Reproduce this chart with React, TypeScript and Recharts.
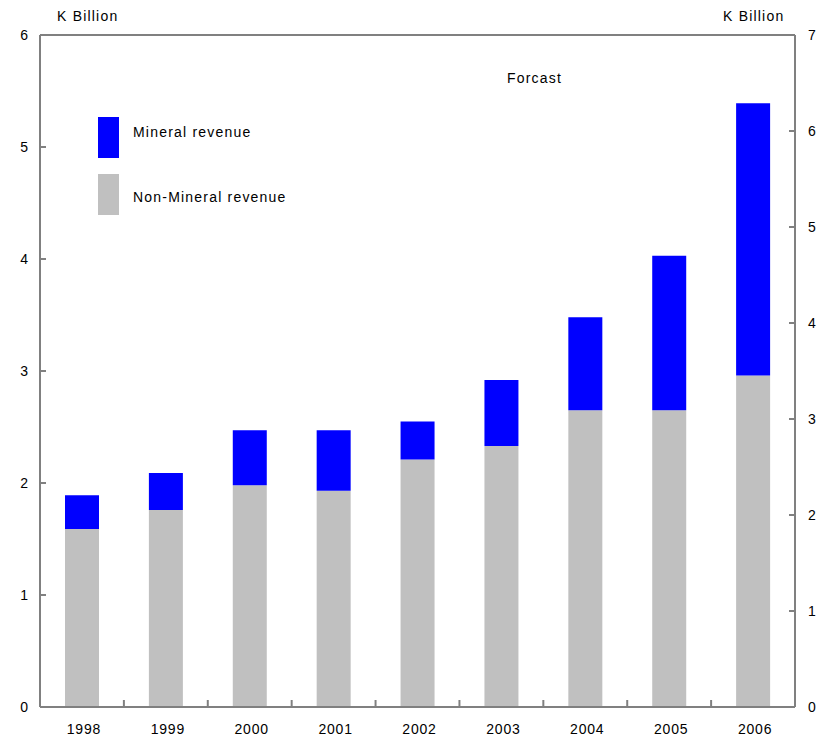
import { BarChart, Bar, Line, XAxis, YAxis, ReferenceLine } from 'recharts';

const years = ['1998', '1999', '2000', '2001', '2002', '2003', '2004', '2005', '2006'];
const nonMineral = [1.59, 1.76, 1.98, 1.93, 2.21, 2.33, 2.65, 2.65, 2.96];
const mineral = [0.3, 0.33, 0.49, 0.54, 0.34, 0.59, 0.83, 1.38, 2.43];
const leftTicks = [0, 1, 2, 3, 4, 5, 6];
const rightTicks = [0, 1, 2, 3, 4, 5, 6, 7];

const data = years.map((year, i) => ({
  year,
  nonMineral: nonMineral[i],
  mineral: mineral[i],
}));

const W = 821;
const H = 739;
const PLOT_LEFT = 40;
const PLOT_RIGHT = 795;
const BAND = (PLOT_RIGHT - PLOT_LEFT) / years.length;
const AXIS = '#808080';
const FONT = 'Arial, "Liberation Sans", sans-serif';

const LeftTick = (props: any) => {
  const { x, y, payload } = props;
  return (
    <g>
      <line x1={x + 12} x2={x + 18} y1={y} y2={y} stroke={AXIS} strokeWidth={2} />
      <text x={x} y={y} dy="0.355em" textAnchor="end" fontSize={14} fontFamily={FONT} fill="#000">
        {payload.value}
      </text>
    </g>
  );
};

const RightTick = (props: any) => {
  const { x, y, payload } = props;
  return (
    <g>
      <line x1={x - 13} x2={x - 19} y1={y} y2={y} stroke={AXIS} strokeWidth={2} />
      <text x={x} y={y} dy="0.355em" textAnchor="start" fontSize={14} fontFamily={FONT} fill="#000">
        {payload.value}
      </text>
    </g>
  );
};

const YearTick = (props: any) => {
  const { x, y, payload, index } = props;
  const axisY = y - 17;
  return (
    <g>
      {index > 0 && (
        <line
          x1={x - BAND / 2}
          x2={x - BAND / 2}
          y1={axisY}
          y2={axisY - 7}
          stroke={AXIS}
          strokeWidth={2}
        />
      )}
      <text
        x={x + 2}
        y={y}
        dy="0.71em"
        textAnchor="middle"
        fontSize={14}
        fontFamily={FONT}
        letterSpacing={0.8}
        fill="#000"
      >
        {payload.value}
      </text>
    </g>
  );
};

const txt = (left: number, top: number, s: string) => (
  <div
    style={{
      position: 'absolute',
      left,
      top,
      fontSize: 14,
      fontFamily: FONT,
      letterSpacing: '1.2px',
      lineHeight: '16px',
      whiteSpace: 'nowrap',
      color: '#000',
    }}
  >
    {s}
  </div>
);

export default function App() {
  return (
    <div style={{ position: 'absolute', left: 0, top: 0, width: W, height: H, background: '#fff' }}>
      <BarChart width={W} height={H} data={data} margin={{ top: 35, right: 0, bottom: 0, left: 0 }}>
        <XAxis
          dataKey="year"
          height={32}
          stroke={AXIS}
          strokeWidth={2}
          tickLine={false}
          tickSize={0}
          tickMargin={17}
          tick={<YearTick />}
          interval={0}
        />
        <YAxis
          yAxisId="left"
          orientation="left"
          width={40}
          domain={[0, 6]}
          ticks={leftTicks}
          stroke={AXIS}
          strokeWidth={2}
          tickLine={false}
          tickSize={0}
          tickMargin={12}
          tick={<LeftTick />}
          interval={0}
        />
        <YAxis
          yAxisId="right"
          orientation="right"
          width={26}
          domain={[0, 7]}
          ticks={rightTicks}
          stroke={AXIS}
          strokeWidth={2}
          tickLine={false}
          tickSize={0}
          tickMargin={13}
          tick={<RightTick />}
          interval={0}
        />
        <ReferenceLine yAxisId="left" y={6} stroke={AXIS} strokeWidth={2} />
        <Bar yAxisId="left" dataKey="nonMineral" name="Non-Mineral revenue" stackId="a" fill="#C0C0C0" barSize={34} isAnimationActive={false} />
        <Bar yAxisId="left" dataKey="mineral" name="Mineral revenue" stackId="a" fill="#0000FF" barSize={34} isAnimationActive={false} />
        {/* invisible series so the right-hand axis gets a scale */}
        <Line yAxisId="right" dataKey="nonMineral" stroke="none" dot={false} activeDot={false} legendType="none" isAnimationActive={false} />
      </BarChart>
      {txt(57, 8, 'K Billion')}
      {txt(723, 8, 'K Billion')}
      {txt(507, 70, 'Forcast')}
      <div style={{ position: 'absolute', left: 98, top: 117, width: 21, height: 41, background: '#0000FF' }} />
      <div style={{ position: 'absolute', left: 98, top: 174, width: 21, height: 41, background: '#C0C0C0' }} />
      {txt(133, 124, 'Mineral revenue')}
      {txt(133, 189, 'Non-Mineral revenue')}
    </div>
  );
}
